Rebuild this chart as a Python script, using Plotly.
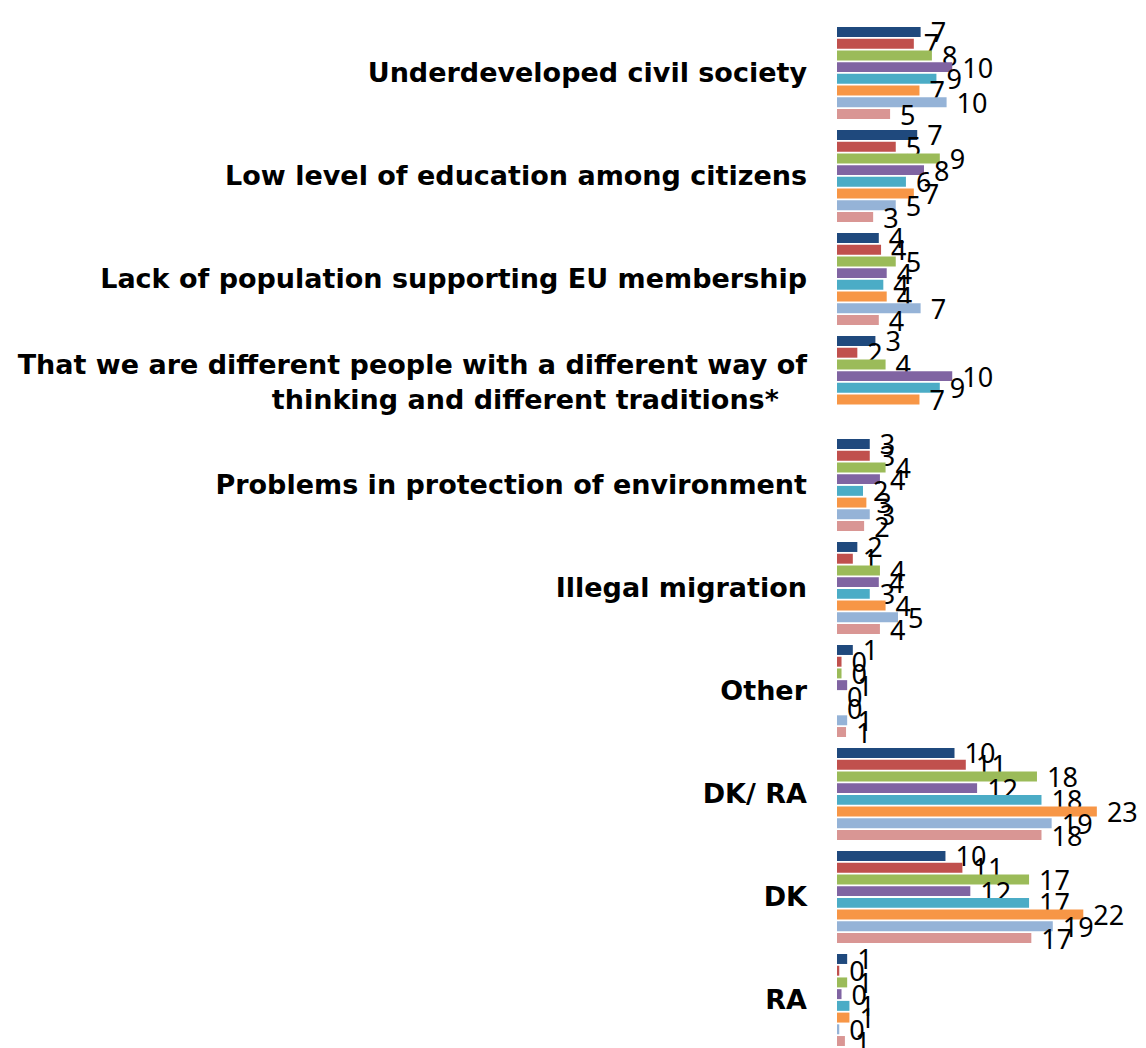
import plotly.graph_objects as go

categories = [
    "Underdeveloped civil society",
    "Low level of education among citizens",
    "Lack of population supporting EU membership",
    "That we are different people with a different way of<br>thinking and different traditions*\u00a0\u00a0\u00a0",
    "Problems in protection of environment",
    "Illegal migration",
    "Other",
    "DK/ RA",
    "DK",
    "RA",
]

s1 = [7.4, 7.1, 3.7, 3.4, 2.9, 1.8, 1.4, 10.4, 9.6, 0.9]
s2 = [6.8, 5.2, 3.9, 1.8, 2.9, 1.4, 0.4, 11.4, 11.1, 0.2]
s3 = [8.4, 9.1, 5.2, 4.3, 4.3, 3.8, 0.4, 17.7, 17.0, 0.9]
s4 = [10.2, 7.7, 4.4, 10.2, 3.8, 3.7, 0.9, 12.4, 11.8, 0.4]
s5 = [8.8, 6.1, 4.1, 9.1, 2.3, 2.9, 0.0, 18.1, 17.0, 1.1]
s6 = [7.3, 6.8, 4.4, 7.3, 2.6, 4.3, 0.0, 23.0, 21.8, 1.1]
s7 = [9.7, 5.2, 7.4, None, 2.9, 5.4, 0.9, 19.0, 19.1, 0.2]
s8 = [4.7, 3.2, 3.7, None, 2.4, 3.8, 0.8, 18.1, 17.2, 0.7]

series = [s1, s2, s3, s4, s5, s6, s7, s8]
colors = ["#1F497D", "#C0504D", "#9BBB59", "#8064A2",
          "#4BACC6", "#F79646", "#95B3D7", "#D99694"]

LABEL_FONT = "DejaVu Sans, sans-serif"
NUM_FONT = "Noto Sans, Open Sans, sans-serif"

fig = go.Figure()
for vals, col in zip(series, colors):
    fig.add_trace(go.Bar(
        y=categories, x=vals, orientation="h",
        marker=dict(color=col, line=dict(width=0)),
        texttemplate="\u00a0%{x:.0f}", textposition="outside",
        constraintext="none", cliponaxis=False,
        textfont=dict(family=NUM_FONT, size=27, color="black"),
        showlegend=False,
    ))

fig.update_layout(
    width=1138, height=1040,
    margin=dict(l=829, r=0, t=0, b=0),
    barmode="group", bargap=0.09, bargroupgap=0.15,
    plot_bgcolor="white", paper_bgcolor="white",
    font=dict(family=LABEL_FONT, size=27, color="black"),
    xaxis=dict(visible=False, range=[0, 27.35]),
    yaxis=dict(range=[9.466, -0.631], showgrid=False, showline=False,
               ticks="", ticklabelstandoff=29, automargin=False,
               tickfont=dict(family=LABEL_FONT, size=27, color="black",
                             weight="bold")),
)

fig.write_html("out.html")
